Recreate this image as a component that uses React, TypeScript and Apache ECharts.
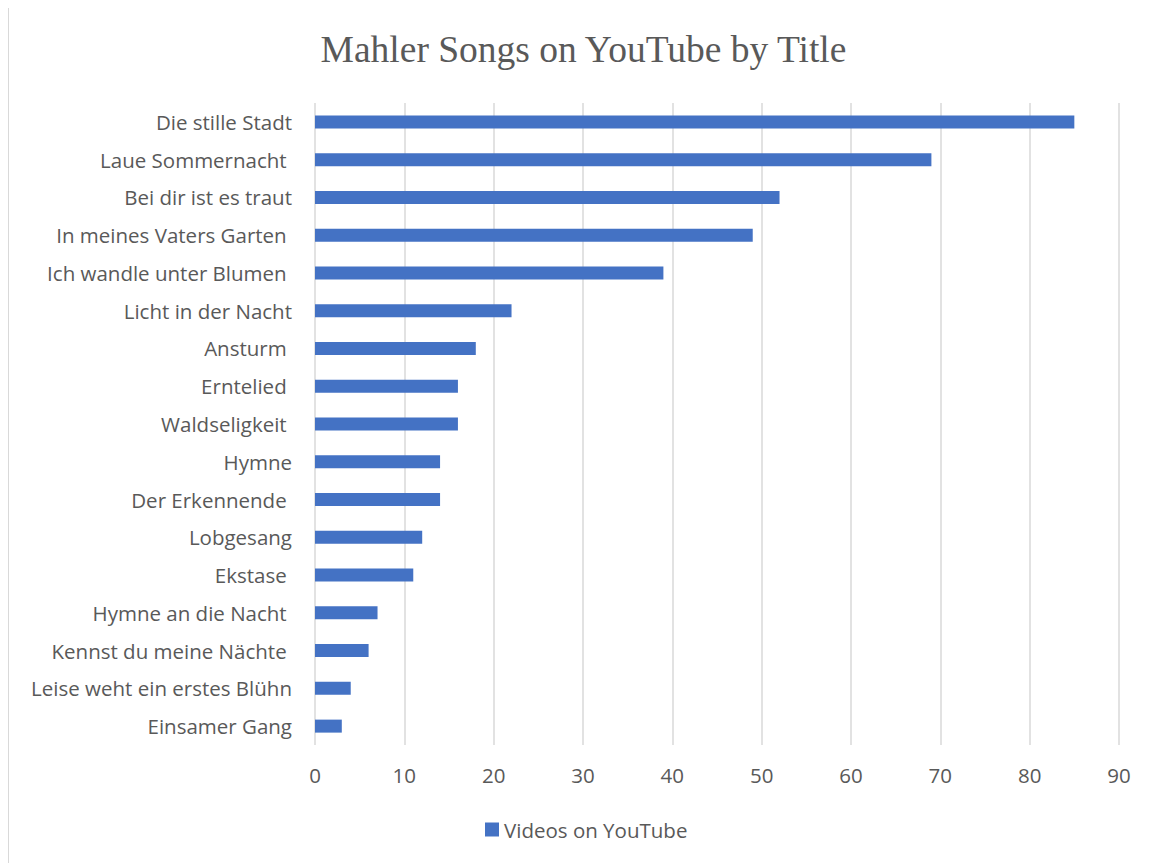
import React, { useEffect, useRef } from "react";
import * as echarts from "echarts";

const categories = [
  "Die stille Stadt",
  "Laue Sommernacht ",
  "Bei dir ist es traut",
  "In meines Vaters Garten ",
  "Ich wandle unter Blumen ",
  "Licht in der Nacht",
  "Ansturm ",
  "Erntelied ",
  "Waldseligkeit ",
  "Hymne",
  "Der Erkennende ",
  "Lobgesang",
  "Ekstase ",
  "Hymne an die Nacht ",
  "Kennst du meine Nächte ",
  "Leise weht ein erstes Blühn",
  "Einsamer Gang",
];
const videos = [85, 69, 52, 49, 39, 22, 18, 16, 16, 14, 14, 12, 11, 7, 6, 4, 3];
const seriesName = "Videos on YouTube";
const titleText = "Mahler Songs on YouTube by Title";

export default function App() {
  const ref = useRef<HTMLDivElement>(null);
  useEffect(() => {
    if (!ref.current) return;
    const chart = echarts.init(ref.current, undefined, { renderer: "svg" });
    const font = "'Open Sans', sans-serif";
    chart.setOption({
      animation: false,
      backgroundColor: "#ffffff",
      title: {
        text: titleText,
        left: "center",
        top: 17,
        textStyle: {
          fontFamily: "'Liberation Serif', 'Times New Roman', serif",
          fontSize: 37.5,
          fontWeight: "normal",
          color: "#595959",
        },
      },
      legend: {
        bottom: 18,
        left: 471,
        itemWidth: 14,
        itemHeight: 14,
        itemGap: 8,
        icon: "rect",
        textStyle: { fontFamily: font, fontSize: 20.5, color: "#595959" },
        data: [seriesName],
      },
      grid: { left: 306, right: 39, top: 95, bottom: 118, containLabel: false },
      xAxis: {
        type: "value",
        min: 0,
        max: 90,
        interval: 10,
        axisLine: { show: false },
        axisTick: { show: false },
        axisLabel: { fontFamily: font, fontSize: 20.5, color: "#595959", margin: 19 },
        splitLine: { show: true, lineStyle: { color: "#d9d9d9", width: 1.5 } },
      },
      yAxis: {
        type: "category",
        inverse: true,
        data: categories,
        axisLine: { show: false },
        axisTick: { show: false },
        axisLabel: { fontFamily: font, fontSize: 20.5, color: "#595959", margin: 23 },
      },
      series: [
        {
          name: seriesName,
          type: "bar",
          data: videos,
          barWidth: 13,
          itemStyle: { color: "#4472C4" },
        },
      ],
    });
    return () => chart.dispose();
  }, []);
  return (
    <div
      ref={ref}
      style={{
        width: 1150,
        height: 856,
        marginTop: -1,
        boxSizing: "border-box",
        borderTop: "1px solid #d9d9d9",
        borderLeft: "1px solid #d9d9d9",
      }}
    />
  );
}
